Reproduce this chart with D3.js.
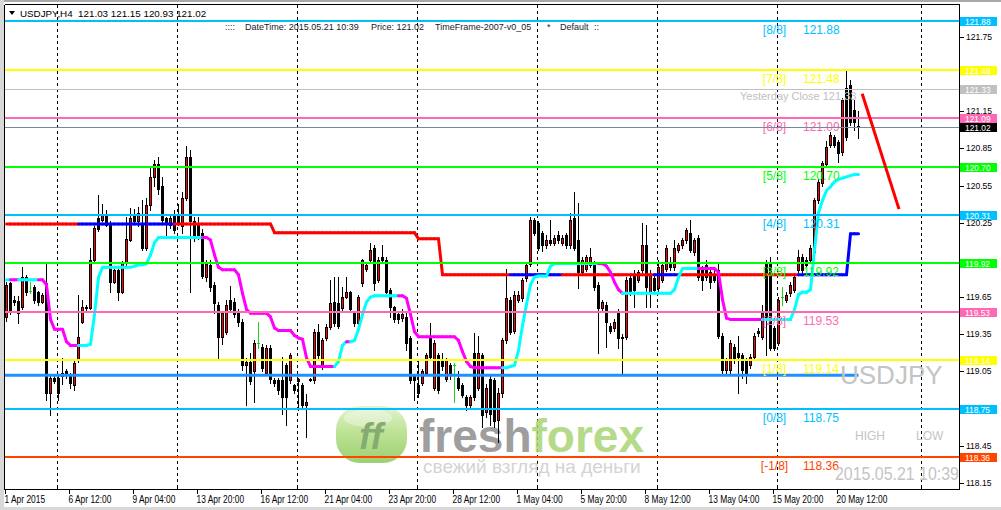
<!DOCTYPE html>
<html><head><meta charset="utf-8">
<script src="https://cdn.jsdelivr.net/npm/d3@7"></script>
<style>
html,body{margin:0;padding:0;background:#fff;overflow:hidden}
svg{display:block}
text{font-family:"Liberation Sans",Arial,sans-serif}
</style></head><body>
<svg id="c" width="1001" height="510"></svg>
<script>
// ---------- DATA (USDJPY H4, bars from 1 Apr 2015 20:00 to 21 May 2015 08:00) ----------
const opens = [
119.49,119.76,119.63,119.62,119.57,119.81,119.70,119.73,119.69,119.61,
119.76,118.88,119.00,119.00,119.01,119.05,119.02,118.94,119.14,119.45,
119.57,119.56,119.95,120.29,120.27,120.31,120.24,119.77,119.87,119.69,
119.93,120.11,120.31,120.26,120.23,120.05,120.39,120.62,120.72,120.55,
120.29,120.23,120.31,120.32,120.22,120.45,120.78,120.26,120.23,120.17,
119.81,119.91,119.75,119.59,119.33,119.37,119.63,119.61,119.52,119.45,
119.10,119.13,119.05,119.28,119.25,119.04,119.24,118.98,118.98,118.98,
119.10,118.98,118.94,118.99,118.94,118.78,118.99,118.98,119.37,119.09,
119.32,119.41,119.61,119.60,119.56,119.65,119.69,119.53,119.44,119.76,
119.88,119.95,120.05,119.79,119.97,119.95,119.71,119.57,119.51,119.48,
119.49,119.32,119.01,118.94,118.96,119.04,119.34,118.92,119.18,119.14,
118.99,119.10,119.10,119.00,118.94,118.84,118.78,119.20,118.92,119.18,
118.72,118.99,118.98,118.66,118.88,119.30,119.63,119.38,119.63,119.64,
119.80,119.92,120.27,120.25,120.17,120.07,120.11,120.09,120.15,120.09,
120.15,120.07,120.29,120.11,119.85,119.88,119.91,119.92,119.75,119.56,
119.59,119.42,119.40,119.53,119.33,119.33,119.80,119.83,119.79,119.87,
120.07,119.68,119.80,119.72,119.79,119.88,119.93,119.89,120.03,120.07,
120.11,120.17,120.01,120.13,119.88,119.91,119.85,119.83,119.87,119.34,
119.06,119.06,119.25,119.20,119.18,119.14,119.10,119.17,119.38,119.33,
119.93,119.92,119.40,119.28,119.65,119.63,119.68,119.71,119.87,119.97,
119.95,119.95,120.01,120.43,120.57,120.72,120.88,120.94,120.90,120.82,
121.34,121.36,121.16,121.03];
const highs = [
119.77,119.77,119.66,119.66,119.89,119.83,119.77,119.75,119.70,119.68,
119.93,119.01,119.01,119.01,119.16,119.07,119.04,119.14,119.67,119.63,
119.59,120.05,120.22,120.47,120.40,120.35,120.26,119.88,119.89,119.94,
120.30,120.37,120.36,120.38,120.43,120.45,120.70,120.76,120.78,120.62,
120.30,120.31,120.35,120.40,120.50,120.87,120.84,120.30,120.30,120.20,
119.95,119.95,119.77,119.61,119.54,119.63,119.74,119.64,119.55,119.47,
119.16,119.20,119.30,119.45,119.27,119.26,119.26,119.00,119.00,119.17,
119.12,119.20,118.95,119.00,118.96,118.87,119.00,119.39,119.43,119.32,
119.43,119.79,119.81,119.81,119.73,119.81,119.70,119.54,119.67,119.96,
119.93,120.09,120.07,119.97,120.07,119.97,119.72,119.58,119.53,119.55,
119.52,119.34,119.03,119.14,119.07,119.20,119.44,119.30,119.20,119.20,
119.16,119.12,119.12,119.05,118.96,118.86,118.86,119.36,119.34,119.20,
118.95,119.01,119.00,118.92,119.32,119.88,119.65,119.70,119.70,119.80,
119.93,120.30,120.29,120.26,120.18,120.15,120.27,120.15,120.18,120.15,
120.17,120.33,120.50,120.41,119.97,119.99,120.05,119.94,119.77,119.63,
119.61,119.44,119.47,119.55,119.35,119.81,119.82,119.87,119.87,120.25,
120.23,119.87,119.82,119.95,119.93,120.07,119.97,120.11,120.09,120.13,
120.21,120.27,120.13,120.15,119.90,119.95,119.87,119.87,119.92,119.36,
119.16,119.30,119.27,119.34,119.20,119.16,119.19,119.36,119.40,119.59,
119.95,119.97,119.42,119.65,119.73,119.69,119.77,119.83,120.03,120.00,
119.97,120.07,120.45,120.60,120.75,120.91,120.98,120.96,120.92,121.26,
121.48,121.40,121.24,121.15];
const lows = [
119.46,119.51,119.59,119.44,119.55,119.67,119.68,119.60,119.59,119.60,
118.82,118.70,118.96,118.82,118.95,119.00,118.92,118.90,119.13,119.44,
119.54,119.55,119.94,120.18,120.26,120.22,119.69,119.76,119.63,119.68,
119.91,120.10,120.24,120.22,120.03,120.03,120.35,120.55,120.48,120.24,
120.13,120.21,120.17,120.23,120.17,120.43,119.69,120.10,120.12,119.80,
119.78,119.70,119.52,119.16,119.27,119.35,119.54,119.49,119.42,119.06,
118.78,118.95,118.80,119.24,119.05,119.02,118.96,118.93,118.87,118.71,
118.62,118.96,118.88,118.74,118.76,118.52,118.97,118.96,119.16,119.07,
119.30,119.39,119.42,119.40,119.54,119.64,119.53,119.42,119.42,119.74,
119.86,119.93,119.71,119.77,119.93,119.68,119.49,119.45,119.44,119.46,
119.22,118.96,118.82,118.84,118.94,119.02,119.15,118.90,118.88,119.06,
118.97,118.99,118.80,118.90,118.84,118.74,118.76,118.82,118.90,118.60,
118.68,118.62,118.60,118.48,118.84,119.28,119.35,119.36,119.61,119.62,
119.78,119.90,120.15,120.03,120.02,120.05,120.07,120.07,120.09,120.07,
120.05,120.05,120.03,119.72,119.83,119.86,119.89,119.71,119.20,119.54,
119.25,119.36,119.38,119.24,119.04,119.31,119.67,119.57,119.77,119.85,
119.57,119.57,119.69,119.70,119.77,119.86,119.87,119.87,120.01,120.05,
120.09,120.01,119.99,119.79,119.71,119.79,119.72,119.77,119.32,119.04,
119.04,119.04,119.12,118.88,119.00,118.96,119.08,119.15,119.34,119.31,
119.18,119.22,119.22,119.26,119.59,119.61,119.66,119.69,119.85,119.85,
119.89,119.93,119.99,120.41,120.55,120.70,120.86,120.86,120.74,120.80,
120.92,121.04,121.00,120.93];
const closes = [
119.75,119.53,119.61,119.52,119.81,119.69,119.70,119.63,119.61,119.67,
118.88,119.00,118.97,118.88,119.04,119.04,118.96,119.12,119.33,119.57,
119.56,119.95,120.21,120.20,120.31,120.23,119.77,119.87,119.69,119.93,
120.12,120.29,120.26,120.33,120.05,120.39,120.62,120.72,120.52,120.27,
120.25,120.29,120.19,120.25,120.45,120.78,120.26,120.14,120.14,119.82,
119.92,119.73,119.60,119.33,119.52,119.59,119.55,119.51,119.45,119.10,
119.13,118.97,119.28,119.28,119.08,119.24,118.99,118.96,118.90,118.84,
118.84,119.18,118.90,118.97,118.78,118.80,118.98,119.37,119.18,119.30,
119.41,119.60,119.44,119.42,119.65,119.69,119.55,119.44,119.65,119.95,
119.91,120.03,119.76,119.95,119.95,119.69,119.57,119.47,119.47,119.51,
119.28,118.98,118.98,118.88,119.05,119.18,119.17,119.28,118.90,119.09,
119.14,119.02,119.10,118.92,118.86,118.78,118.84,118.84,119.20,118.70,
118.92,118.71,118.65,118.88,119.30,119.64,119.37,119.67,119.67,119.79,
119.91,120.27,120.17,120.05,120.07,120.11,120.09,120.13,120.11,120.13,
120.07,120.27,120.05,119.85,119.95,119.97,119.97,119.73,119.56,119.61,
119.45,119.38,119.45,119.32,119.32,119.79,119.69,119.71,119.85,120.07,
119.73,119.83,119.71,119.89,119.91,120.05,119.89,120.05,120.07,120.11,
120.19,120.03,120.11,119.81,119.79,119.81,119.77,119.79,119.34,119.06,
119.14,119.28,119.14,119.17,119.06,119.04,119.17,119.34,119.36,119.52,
119.48,119.24,119.24,119.63,119.65,119.67,119.75,119.81,119.97,119.87,
119.91,120.05,120.43,120.58,120.73,120.86,120.96,120.88,120.81,121.24,
120.94,121.06,121.06,121.02];

// fast step-MA (cyan up / magenta down)
const fastLine = [
119.79,119.79,119.79,119.79,119.79,119.79,119.79,119.79,119.79,119.79,
119.75,119.47,119.39,119.39,119.39,119.29,119.26,119.26,119.26,119.26,
119.26,119.27,119.51,119.81,119.89,119.89,119.89,119.89,119.89,119.89,
119.89,119.89,119.90,119.91,119.91,119.92,119.99,120.09,120.13,120.13,
120.13,120.13,120.13,120.13,120.13,120.13,120.13,120.13,120.13,120.13,
120.13,120.11,119.99,119.89,119.87,119.87,119.87,119.87,119.83,119.68,
119.55,119.52,119.52,119.52,119.52,119.52,119.49,119.40,119.38,119.38,
119.38,119.38,119.34,119.32,119.31,119.16,119.09,119.09,119.09,119.09,
119.09,119.09,119.09,119.13,119.26,119.29,119.29,119.30,119.39,119.51,
119.61,119.65,119.66,119.66,119.66,119.66,119.66,119.66,119.66,119.66,
119.64,119.51,119.37,119.33,119.33,119.33,119.33,119.33,119.33,119.33,
119.33,119.33,119.33,119.30,119.21,119.13,119.09,119.08,119.08,119.08,
119.08,119.08,119.08,119.08,119.08,119.08,119.09,119.10,119.22,119.42,
119.59,119.75,119.81,119.82,119.82,119.82,119.90,119.92,119.92,119.92,
119.92,119.92,119.92,119.92,119.92,119.92,119.92,119.92,119.92,119.92,
119.90,119.85,119.77,119.71,119.68,119.68,119.68,119.68,119.68,119.68,
119.68,119.68,119.68,119.68,119.68,119.68,119.68,119.71,119.81,119.88,
119.88,119.88,119.88,119.88,119.88,119.88,119.88,119.88,119.85,119.63,
119.48,119.47,119.47,119.47,119.47,119.47,119.47,119.47,119.47,119.47,
119.47,119.47,119.47,119.47,119.47,119.47,119.47,119.55,119.67,119.69,
119.69,119.71,120.03,120.33,120.43,120.51,120.54,120.58,120.60,120.61,
120.62,120.63,120.64,120.64];
const fastTurns = [[0,"up"],[2,"down"],[4,"up"],[9,"down"],[19,"up"],[50,"down"],[83,"up"],[86,"down"],[87,"up"],[99,"down"],[125,"up"],[149,"down"],[155,"up"],[174,"down"],[190,"up"]];

// slow step line (red down / blue up): [first bar, level]
const slowSteps = [[0,120.24],[67,120.17],[103,120.12],[109,119.83],[211,120.16]];
const slowTurns = [[0,"down"],[19,"up"],[43,"down"],[127,"up"],[140,"down"],[163,"up"],[169,"down"],[199,"up"]];

const supportLevel = 119.02;
const murreyLevels = [121.875,121.484375,121.09375,120.703125,120.3125,119.921875,119.53125,119.140625,118.75,118.359375];
const murreyNames  = ["[8/8]","[7/8]","[6/8]","[5/8]","[4/8]","[3/8]","[2/8]","[1/8]","[0/8]","[-1/8]"];
const yesterdayClose = 121.33;
// visible price scale ticks (121.45, 119.95 and 118.75 are hidden under the coloured level boxes)
const priceTicks = [121.75,121.15,120.85,120.55,120.25,119.65,119.35,119.05,118.45,118.15];
const timeLabels = ["1 Apr 2015","6 Apr 12:00","9 Apr 04:00","13 Apr 20:00","16 Apr 12:00","21 Apr 04:00","23 Apr 20:00","28 Apr 12:00","1 May 04:00","5 May 20:00","8 May 12:00","13 May 04:00","15 May 20:00","20 May 12:00"];
const timeLabelBars = [0,16,32,48,64,80,96,112,128,144,160,176,192,208];
const weekSeparatorBars = [13,43,73,103,133,163,193,229];
const arrowFrom = [214.3,121.29], arrowTo = [223.5,120.36];

// ---------- STYLE ----------
const C = {dsb:"#00BFFF", yel:"#FFFF00", pink:"#FF69B4", lime:"#00FF00", orng:"#FF4500"};
const murreyColors = [C.dsb,C.yel,C.pink,C.lime,C.dsb,C.lime,C.pink,C.yel,C.dsb,C.orng];

const svg = d3.select("#c");
const x = d3.scaleLinear().domain([0,213]).range([5,857]);
const y = d3.scaleLinear().domain([118.15,121.75]).range([483,36.8]);
const cx = i => x(i)+1.5;

const defs = svg.append("defs");

// background / frame
svg.append("rect").attr("width",1001).attr("height",510).attr("fill","#fff");
svg.append("rect").attr("x",0).attr("y",0).attr("width",1001).attr("height",2).attr("fill","#a8a8a8");
svg.append("rect").attr("x",0).attr("y",0).attr("width",4).attr("height",510).attr("fill","#d8d8d8");
svg.append("rect").attr("x",0).attr("y",507).attr("width",1001).attr("height",3).attr("fill","#d8d8d8");

// week separators
svg.append("g").selectAll("line").data(weekSeparatorBars).join("line")
  .attr("x1",d=>Math.round(x(d))+0.5).attr("x2",d=>Math.round(x(d))+0.5)
  .attr("y1",5).attr("y2",489).attr("stroke","#000").attr("stroke-dasharray","3,3");

// logo watermark
const lg = defs.append("linearGradient").attr("id","lg").attr("x1",0).attr("y1",0).attr("x2",0).attr("y2",1);
lg.append("stop").attr("offset","0%").attr("stop-color","#dff2c6");
lg.append("stop").attr("offset","45%").attr("stop-color","#b4de84");
lg.append("stop").attr("offset","100%").attr("stop-color","#8cc95a");
const logo = svg.append("g").attr("opacity",0.85);
logo.append("rect").attr("x",336).attr("y",406).attr("width",71).attr("height",57).attr("rx",24).attr("fill","url(#lg)");
logo.append("ellipse").attr("cx",368).attr("cy",418).attr("rx",24).attr("ry",9).attr("fill","#fff").attr("opacity",0.35);
logo.append("text").attr("x",371).attr("y",449).attr("text-anchor","middle").attr("font-size",36).attr("font-weight","bold")
  .attr("font-style","italic").attr("fill","#6f9d5a").text("ff");
const ft = logo.append("text").attr("x",419).attr("y",452).attr("font-size",46).attr("font-weight","bold");
ft.append("tspan").attr("fill","#8e8e8e").text("fresh");
ft.append("tspan").attr("fill","#a9d576").text("forex");
logo.append("text").attr("x",423).attr("y",473).attr("font-size",19).attr("fill","#cdcdcd").text("свежий взгляд на деньги");

// candles
const bars = d3.range(opens.length).map(i=>({i,o:opens[i],h:highs[i],l:lows[i],c:closes[i]}));
const cg = svg.append("g").attr("shape-rendering","crispEdges");
cg.selectAll("line").data(bars).join("line")
  .attr("x1",d=>cx(d.i)).attr("x2",d=>cx(d.i))
  .attr("y1",d=>Math.round(y(d.h))).attr("y2",d=>Math.round(y(d.l))+1)
  .attr("stroke",d=>d.o===d.c?"#22cc22":"#000");
const bodies = bars.filter(d=>d.o!==d.c);
cg.selectAll("rect.b").data(bodies).join("rect").attr("class","b")
  .attr("x",d=>x(d.i)).attr("width",3)
  .attr("y",d=>Math.round(y(Math.max(d.o,d.c))))
  .attr("height",d=>Math.max(1,Math.round(y(Math.min(d.o,d.c)))-Math.round(y(Math.max(d.o,d.c)))+1))
  .attr("fill","#000");
cg.selectAll("rect.r").data(bodies.filter(d=>d.c>d.o)).join("rect").attr("class","r")
  .attr("x",d=>x(d.i)+1).attr("width",1)
  .attr("y",d=>Math.round(y(d.c))+1)
  .attr("height",d=>Math.max(0,Math.round(y(d.o))-Math.round(y(d.c))-1))
  .attr("fill","#ff0000");
cg.selectAll("line.dj").data(bars.filter(d=>d.o===d.c)).join("line").attr("class","dj")
  .attr("x1",d=>x(d.i)).attr("x2",d=>x(d.i)+3)
  .attr("y1",d=>Math.round(y(d.o))+0.5).attr("y2",d=>Math.round(y(d.o))+0.5).attr("stroke","#22cc22");

// helpers for trend colours
function stateAt(turns,i){let s=turns[0][1];for(const t of turns){if(t[0]<=i)s=t[1];}return s;}
function stepAt(i){let v=slowSteps[0][1];for(const s of slowSteps){if(s[0]<=i)v=s[1];}return v;}

// slow line
const slowVals = d3.range(opens.length).map(stepAt);
const lg2 = svg.append("g").attr("fill","none").attr("stroke-width",3).attr("stroke-linecap","round");
d3.range(1,slowVals.length).forEach(i=>{
  lg2.append("line").attr("x1",cx(i-1)).attr("y1",y(slowVals[i-1])).attr("x2",cx(i)).attr("y2",y(slowVals[i]))
    .attr("stroke",stateAt(slowTurns,i)==="up"?"#0000ff":"#ff0000");
});
// fast line
d3.range(1,fastLine.length).forEach(i=>{
  lg2.append("line").attr("x1",cx(i-1)).attr("y1",y(fastLine[i-1])).attr("x2",cx(i)).attr("y2",y(fastLine[i]))
    .attr("stroke",stateAt(fastTurns,i)==="up"?"#00ffff":"#ff00ff");
});
// support line
svg.append("line").attr("x1",x(0)).attr("x2",cx(213)).attr("y1",y(supportLevel)).attr("y2",y(supportLevel))
  .attr("stroke","#1e90ff").attr("stroke-width",3);

// murrey lines and labels
const mg = svg.append("g");
murreyLevels.forEach((v,k)=>{
  const yy = Math.round(y(v));
  mg.append("line").attr("x1",5).attr("x2",959).attr("y1",yy).attr("y2",yy).attr("stroke",murreyColors[k]).attr("stroke-width",2);
  mg.append("text").attr("x",774.5).attr("y",yy+12.5).attr("text-anchor","middle").attr("font-size",12).attr("fill",murreyColors[k]).text(murreyNames[k]);
  mg.append("text").attr("x",803).attr("y",yy+12.5).attr("font-size",12).attr("fill",murreyColors[k]).text(v.toFixed(2));
});
// yesterday close & bid line
const yc = Math.round(y(yesterdayClose))+0.5;
svg.append("line").attr("x1",5).attr("x2",959).attr("y1",yc).attr("y2",yc).attr("stroke","#c0c0c0");
svg.append("text").attr("x",740).attr("y",yc+10.5).attr("font-size",11).attr("fill","#c0c0c0").text("Yesterday Close "+yesterdayClose.toFixed(2));
const last = closes[closes.length-1];
const yb = Math.round(y(last))+0.5;
svg.append("line").attr("x1",5).attr("x2",959).attr("y1",yb).attr("y2",yb).attr("stroke","#778899");

// arrow trend line
svg.append("line").attr("x1",x(arrowFrom[0])).attr("y1",y(arrowFrom[1])).attr("x2",x(arrowTo[0])).attr("y2",y(arrowTo[1]))
  .attr("stroke","#ff0000").attr("stroke-width",3);

// watermark texts
svg.append("text").attr("x",840).attr("y",384).attr("font-size",26).attr("fill","#c4c4c4").text("USDJPY");
svg.append("text").attr("x",855).attr("y",440).attr("font-size",12).attr("fill","#c4c4c4").text("HIGH");
svg.append("text").attr("x",916).attr("y",440).attr("font-size",12).attr("fill","#c4c4c4").text("LOW");
svg.append("text").attr("transform","translate(835,480) scale(0.885,1)").attr("font-size",18).attr("fill","#c4c4c4").text("2015.05.21 10:39");

// header
svg.append("path").attr("d","M9,11 L15,11 L12,15 Z").attr("fill","#000");
const o=opens.length-1;
svg.append("text").attr("x",20).attr("y",17).attr("font-size",9.8).attr("fill","#000").style("white-space","pre")
  .text("USDJPY,H4  "+[opens[o],highs[o],lows[o],closes[o]].map(v=>v.toFixed(2)).join(" "));
const h2 = [["::::",225],["DateTime: 2015.05.21 10:39",245],["Price: "+last.toFixed(2),371],["TimeFrame-2007-v0_05",435],["*",547],["Default",560],["::",594]];
svg.append("g").selectAll("text").data(h2).join("text").attr("x",d=>d[1]).attr("y",29.5)
  .attr("font-size",9).attr("fill","#1a1a2a").text(d=>d[0]);

// axes frame
const ax = svg.append("g").attr("shape-rendering","crispEdges");
ax.append("line").attr("x1",4.5).attr("x2",959.5).attr("y1",4.5).attr("y2",4.5).attr("stroke","#000");
ax.append("line").attr("x1",4.5).attr("x2",4.5).attr("y1",4.5).attr("y2",489.5).attr("stroke","#000");
ax.append("line").attr("x1",959.5).attr("x2",959.5).attr("y1",4.5).attr("y2",489.5).attr("stroke","#000");
ax.append("line").attr("x1",4.5).attr("x2",959.5).attr("y1",489.5).attr("y2",489.5).attr("stroke","#000");
// price ticks
priceTicks.forEach(v=>{
  const yy=Math.round(y(v))+0.5;
  ax.append("line").attr("x1",960).attr("x2",964).attr("y1",yy).attr("y2",yy).attr("stroke","#000");
  svg.append("text").attr("transform",`translate(966,${yy+2.5}) scale(0.9,1)`).attr("font-size",9.5).attr("fill","#000").text(v.toFixed(2));
});
// time ticks and labels
timeLabelBars.forEach((b,k)=>{
  const xx=Math.round(x(b))+0.5;
  ax.append("line").attr("x1",xx).attr("x2",xx).attr("y1",490).attr("y2",494).attr("stroke","#000");
  svg.append("text").attr("transform",`translate(${xx-1},503) scale(0.84,1)`).attr("font-size",10).attr("fill","#000").text(timeLabels[k]);
});
weekSeparatorBars.forEach(b=>{
  const xx=Math.round(x(b))+0.5;
  ax.append("line").attr("x1",xx).attr("x2",xx).attr("y1",485).attr("y2",489).attr("stroke","#000");
});

// right axis coloured price boxes
const boxes = murreyLevels.map((v,k)=>[v,murreyColors[k]]).concat([[yesterdayClose,"#c0c0c0"],[last,"#000000"]]);
const bg = svg.append("g");
boxes.forEach(([v,col])=>{
  const yy=Math.round(y(v));
  bg.append("rect").attr("x",960).attr("y",yy-4).attr("width",37).attr("height",9).attr("fill",col);
  bg.append("text").attr("transform",`translate(965,${yy+3.8}) scale(0.9,1)`).attr("font-size",9.3).attr("fill","#fff").text(v.toFixed(2));
});
</script>
</body></html>
